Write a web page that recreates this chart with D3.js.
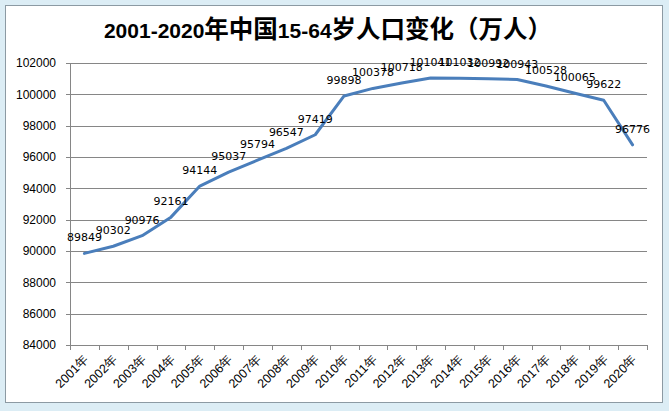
<!DOCTYPE html>
<html><head><meta charset="utf-8">
<script src="https://cdn.jsdelivr.net/npm/d3@7/dist/d3.min.js"></script>
<style>
html,body{margin:0;padding:0;background:#dcedf5;}
svg{display:block;}
</style></head>
<body>
<svg id="c" width="669" height="411"></svg>
<script>
const years = ["2001年","2002年","2003年","2004年","2005年","2006年","2007年","2008年","2009年","2010年",
               "2011年","2012年","2013年","2014年","2015年","2016年","2017年","2018年","2019年","2020年"];
const population = [89849,90302,90976,92161,94144,95037,95794,96547,97419,99898,
                    100378,100718,101041,101032,100992,100943,100528,100065,99622,96776];
const yTicks = [84000,86000,88000,90000,92000,94000,96000,98000,100000,102000];
const titleParts = [["2001-2020","latin"],["年中国","cjk"],["15-64","latin"],["岁人口变化（万人）","cjk"]];

const svg = d3.select("#c");
svg.append("rect").attr("x",0).attr("y",0).attr("width",669).attr("height",411).attr("fill","#dcedf5");
svg.append("rect").attr("x",5.5).attr("y",5.5).attr("width",657).attr("height",397)
  .attr("fill","#ffffff").attr("stroke","#8c9aa3").attr("stroke-width",1);

const pLeft = 70, pRight = 647, pTop = 63, pBottom = 345;
const x = d3.scaleBand().domain(years).range([pLeft, pRight]).padding(0);
const y = d3.scaleLinear().domain([84000,102000]).range([pBottom, pTop]);
const cx = d => x(d) + x.bandwidth()/2;

// gridlines + y ticks
const g = svg.append("g");
g.selectAll("line.grid").data(yTicks).join("line")
  .attr("x1", pLeft-4).attr("x2", pRight)
  .attr("y1", d => Math.round(y(d))+0.5).attr("y2", d => Math.round(y(d))+0.5)
  .attr("stroke","#868686").attr("stroke-width",1);
g.selectAll("text.yl").data(yTicks).join("text")
  .attr("x", 56).attr("y", d => y(d)).attr("dy","0.35em")
  .attr("text-anchor","end")
  .attr("font-family","'Liberation Sans', Arial, sans-serif").attr("font-size",12)
  .attr("fill","#000").text(d => d);

// axes lines
g.append("line").attr("x1",pLeft+0.5).attr("x2",pLeft+0.5).attr("y1",pTop).attr("y2",pBottom)
  .attr("stroke","#868686");
g.append("line").attr("x1",pLeft).attr("x2",pRight).attr("y1",pBottom+0.5).attr("y2",pBottom+0.5)
  .attr("stroke","#868686");
const bounds = years.map(d => x(d)).concat([pRight]);
g.selectAll("line.xt").data(bounds).join("line")
  .attr("x1", d => Math.round(d)+0.5).attr("x2", d => Math.round(d)+0.5)
  .attr("y1", pBottom).attr("y2", pBottom+5)
  .attr("stroke","#868686");

// x labels
g.selectAll("text.xl").data(years).join("text")
  .attr("transform", d => `translate(${cx(d)+5},${pBottom+15}) rotate(-45)`)
  .attr("text-anchor","end")
  .attr("font-family","'Liberation Sans', Arial, sans-serif").attr("font-size",12.5)
  .attr("fill","#000").text(d => d);

// line
const line = d3.line().x((d,i) => cx(years[i])).y(d => y(d));
svg.append("path").datum(population).attr("d", line)
  .attr("fill","none").attr("stroke","#4a7ebb").attr("stroke-width",3)
  .attr("stroke-linejoin","round").attr("stroke-linecap","round");

// data labels
svg.selectAll("text.dl").data(population).join("text")
  .attr("x", (d,i) => cx(years[i])).attr("y", d => y(d) - 12)
  .attr("text-anchor","middle")
  .attr("font-family","'DejaVu Sans', Verdana, sans-serif").attr("font-size",11)
  .attr("fill","#000").text(d => d);

// title
const t = svg.append("text").attr("x", 328).attr("y", 38).attr("text-anchor","middle")
  .attr("font-weight","bold").attr("fill","#000");
t.selectAll("tspan").data(titleParts).join("tspan")
  .attr("font-family", d => d[1]==="latin" ? "'Liberation Sans', Arial, sans-serif" : "'Noto Sans CJK SC', sans-serif")
  .attr("font-size", d => d[1]==="latin" ? 21 : 24.5)
  .text(d => d[0]);
</script>
</body></html>
